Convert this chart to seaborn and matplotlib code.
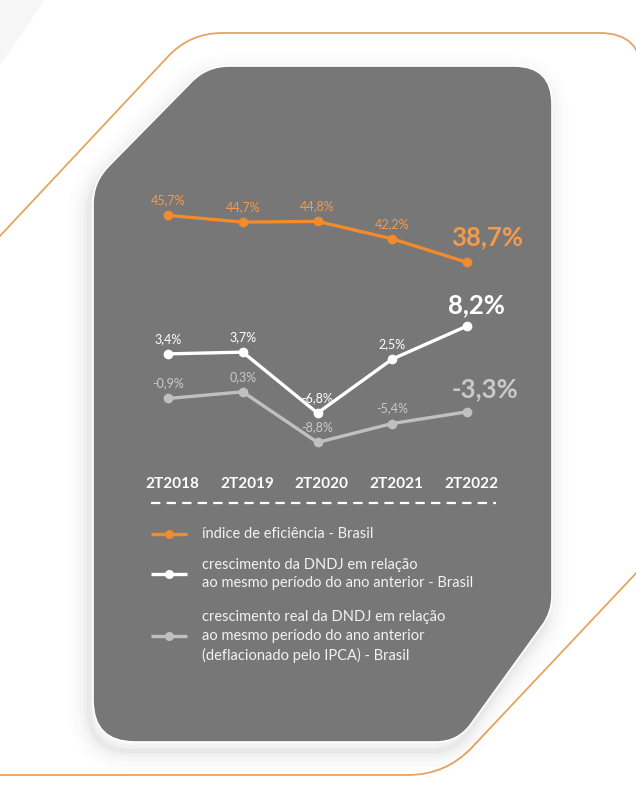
import numpy as np
import matplotlib
matplotlib.use("Agg")
import matplotlib.pyplot as plt
import seaborn as sns
from matplotlib.path import Path
from matplotlib.patches import PathPatch
from matplotlib import font_manager
import matplotlib.transforms as mtransforms

# ---------------- data ----------------
quarters = ["2T2018", "2T2019", "2T2020", "2T2021", "2T2022"]
eficiencia = [45.7, 44.7, 44.8, 42.2, 38.7]
dndj = [3.4, 3.7, -6.8, 2.5, 8.2]
dndj_real = [-0.9, 0.3, -8.8, -5.4, -3.3]
legend_labels = [
    ["índice de eficiência - Brasil"],
    ["crescimento da DNDJ em relação",
     "ao mesmo período do ano anterior - Brasil"],
    ["crescimento real da DNDJ em relação",
     "ao mesmo período do ano anterior",
     "(deflacionado pelo IPCA) - Brasil"],
]

# ---------------- style ----------------
sns.set_style("white")
names = {f.name for f in font_manager.fontManager.ttflist}
FONT = "Liberation Sans Narrow" if "Liberation Sans Narrow" in names else "Lato"
plt.rcParams["font.family"] = [FONT, "DejaVu Sans"]

ORANGE = "#F28A2E"
ORANGE_TXT = "#F39A4C"
WHITE = "#FFFFFF"
GRAY = "#C0C0C0"
GRAY_TXT = "#C9C9C9"
PANEL = "#777777"
OUTLINE = "#E6A45E"

W, H = 636, 799
fig = plt.figure(figsize=(W / 100, H / 100), dpi=100)
fig.patch.set_facecolor("white")


def fx(x):
    return x / W


def fy(y):
    return 1 - y / H


def rounded(pts, radii, closed=True):
    pts = [np.array(p, float) for p in pts]
    n = len(pts)
    verts, codes = [], []
    rng = range(n) if closed else range(1, n - 1)
    if not closed:
        verts.append(pts[0]); codes.append(Path.MOVETO)
    first = True
    for i in rng:
        p0, p1, p2 = pts[i - 1], pts[i], pts[(i + 1) % n]
        r = radii[i]
        d1 = (p0 - p1) / np.linalg.norm(p0 - p1)
        d2 = (p2 - p1) / np.linalg.norm(p2 - p1)
        a, b = p1 + d1 * r, p1 + d2 * r
        if closed and first:
            verts.append(a); codes.append(Path.MOVETO)
            first = False
        else:
            verts.append(a); codes.append(Path.LINETO)
        verts += [p1, b]; codes += [Path.CURVE3, Path.CURVE3]
    if closed:
        verts.append(verts[0]); codes.append(Path.CLOSEPOLY)
    else:
        verts.append(pts[-1]); codes.append(Path.LINETO)
    return Path(verts, codes)


# ---------------- background shapes ----------------
ax_bg = fig.add_axes([0, 0, 1, 1])
ax_bg.set_xlim(0, W)
ax_bg.set_ylim(H, 0)
ax_bg.axis("off")

# faint decorative bands
ax_bg.add_patch(plt.Polygon([(0, 0), (45, 0), (0, 65)], closed=True,
                            facecolor="#F6F6F6", edgecolor="none"))

outline = rounded([(-60, 300), (190, 33), (642, 33), (642, 260)],
                  [0, 32, 42, 0], closed=False)
ax_bg.add_patch(PathPatch(outline, facecolor="none", edgecolor=OUTLINE, lw=1.3))
outline2 = rounded([(-60, 775), (446, 775), (720, 484)],
                   [0, 38, 0], closed=False)
ax_bg.add_patch(PathPatch(outline2, facecolor="none", edgecolor=OUTLINE, lw=1.3))

panel_pts = [(207, 66), (552, 66), (552, 612), (458, 742), (93, 742), (93, 182)]
panel_r = [22, 38, 16, 22, 42, 22]
panel = rounded(panel_pts, panel_r)

# soft shadow (mostly below / left)
for lw, a in [(30, 0.008), (22, 0.011), (15, 0.015), (9, 0.02), (4, 0.03)]:
    sh = PathPatch(panel, facecolor="none", edgecolor="black", lw=lw, alpha=a,
                   transform=mtransforms.Affine2D().translate(-4, 9) + ax_bg.transData)
    ax_bg.add_patch(sh)
ax_bg.add_patch(PathPatch(panel, facecolor=PANEL, edgecolor="white", lw=1.2))

# dashed separator
ax_bg.plot([151, 496], [503, 503], color="white", lw=1.6,
           dashes=(4.2, 2.8), solid_capstyle="butt")

# legend
leg_items = [
    (ORANGE, 534, [534]),
    (WHITE, 574, [565, 583]),
    (GRAY, 636, [617, 636, 655]),
]
for (col, ym, ys), lines in zip(leg_items, legend_labels):
    ax_bg.plot([151, 187], [ym, ym], color=col, lw=2.4, solid_capstyle="butt")
    ax_bg.plot([169], [ym], "o", color=col, ms=6.5, mew=0)
    for y, t in zip(ys, lines):
        ax_bg.text(202, y, t, color="#F2F2F2", fontsize=10.5,
                   ha="left", va="center")

# ---------------- data axes ----------------
left, right, top, bottom = 145.6, 489.4, 180, 470
rect = [fx(left), fy(bottom), (right - left) / W, (bottom - top) / H]

series = [
    (dndj_real, GRAY, GRAY_TXT, (-13.76, 38.39), "real"),
    (dndj, WHITE, WHITE, (-16.62, 33.38), "dndj"),
    (eficiencia, ORANGE, ORANGE_TXT, (7.70, 50.98), "ef"),
]
big_off = {"real": (18, 23), "dndj": (9, 21), "ef": (20, 25)}

axes = []
for k, (vals, col, tcol, ylim, key) in enumerate(series):
    ax = fig.add_axes(rect, label=key)
    ax.patch.set_visible(False)
    sns.lineplot(x=quarters, y=vals, ax=ax, color=col, marker="o",
                 markersize=7, markeredgewidth=0, linewidth=2.4, sort=False)
    ax.set_xlim(-0.3, 4.3)
    ax.set_ylim(*ylim)
    ax.set_xlabel("")
    ax.set_ylabel("")
    ax.set_yticks([])
    for s in ax.spines.values():
        s.set_visible(False)
    for i, v in enumerate(vals):
        lab = f"{v:.1f}".replace(".", ",") + "%"
        if i == len(vals) - 1:
            ax.annotate(lab, xy=(i, v), xytext=big_off[key],
                        textcoords="offset pixels", ha="center", va="center",
                        color=tcol, fontsize=18.5, fontweight="bold")
        else:
            ax.annotate(lab, xy=(i, v), xytext=(0, 15),
                        textcoords="offset pixels", ha="center", va="center",
                        color=tcol, fontsize=9)
    if k == 0:
        ax.tick_params(axis="x", length=0, pad=5, labelsize=11,
                       labelcolor="white")
        for t in ax.get_xticklabels():
            t.set_fontweight("bold")
            t.set_transform(t.get_transform() +
                            mtransforms.ScaledTranslation(4 / 100, 0, fig.dpi_scale_trans))
    else:
        ax.set_xticks([])
    axes.append(ax)

fig.savefig("out.png", dpi=100, facecolor="white")
